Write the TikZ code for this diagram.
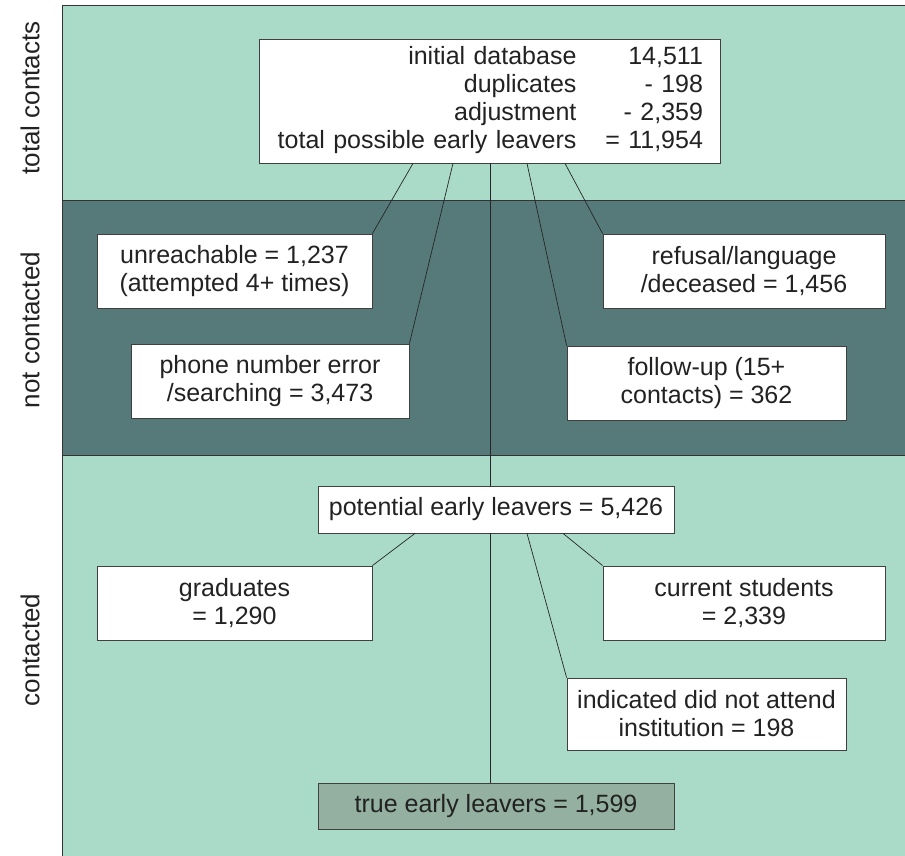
\documentclass[tikz,border=0pt]{standalone}
\usepackage{fontspec}
\setmainfont{Liberation Sans}
\definecolor{lightband}{HTML}{AADBC8}
\definecolor{darkband}{HTML}{567A7A}
\definecolor{truefill}{HTML}{93B0A0}
\definecolor{inktext}{HTML}{222222}
\begin{document}
\begin{tikzpicture}[x=1pt,y=-1pt,
  txt/.style={font=\fontsize{25}{28}\selectfont, text=inktext},
  box/.style={txt, draw=black!75, fill=white, line width=0.8pt, align=center, inner sep=0pt},
  conn/.style={draw=black!85, line width=0.7pt},
  sidelabel/.style={txt, font=\fontsize{26}{28}\selectfont, rotate=90}]
\useasboundingbox (0,0) rectangle (905,856);
% bands
\fill[lightband] (62,5) rectangle (905,200);
\fill[darkband] (62,200) rectangle (905,455);
\fill[lightband] (62,455) rectangle (905,856);
\draw[black!80, line width=0.8pt] (905,5) -- (62,5) -- (62,856);
\draw[black!80, line width=0.8pt] (62,200) -- (905,200);
\draw[black!80, line width=0.8pt] (62,455) -- (905,455);
% side labels
\node[sidelabel] (l1) at (30,98) {total contacts};
\node[sidelabel] (l2) at (30,330) {not contacted};
\node[sidelabel] (l3) at (30,650) {contacted};
% boxes
\node[box, minimum width=461pt, minimum height=124pt, text width=427pt, align=right] (top) at (489.5,101)
  {\begin{tabular}{@{}r@{\hspace{29pt}}r@{}}
   initial database & 14,511\\
   duplicates & - 198\\
   adjustment & - 2,359\\
   total possible early leavers & = 11,954
   \end{tabular}};
\node[box, minimum width=275pt, minimum height=74pt] (unreach) at (234.5,271) {unreachable = 1,237\\(attempted 4+ times)};
\node[box, minimum width=278pt, minimum height=74pt] (phone) at (270,381) {phone number error\\/searching = 3,473};
\node[box, minimum width=282pt, minimum height=74pt] (refusal) at (744,271) {refusal/language\\/deceased = 1,456};
\node[box, minimum width=279pt, minimum height=74pt] (follow) at (706.5,383) {follow-up (15+\\contacts) = 362};
\node[box, minimum width=356pt, minimum height=47pt] (potential) at (496,509.5) {potential early leavers = 5,426};
\node[box, minimum width=275pt, minimum height=74pt] (grad) at (234.5,603) {graduates\\= 1,290};
\node[box, minimum width=282pt, minimum height=74pt] (current) at (744,603) {current students\\= 2,339};
\node[box, minimum width=279pt, minimum height=72pt] (indicated) at (706.5,714) {indicated did not attend\\institution = 198};
\node[box, fill=truefill, minimum width=356pt, minimum height=46pt] (true) at (496,806) {true early leavers = 1,599};
% connectors
\draw[conn] ([xshift=-76.5pt]top.south) -- (unreach.north east);
\draw[conn] ([xshift=-36.5pt]top.south) -- (phone.north east);
\draw[conn] ([xshift=0.5pt]top.south) -- ([xshift=-6pt]potential.north);
\draw[conn] ([xshift=37.5pt]top.south) -- (follow.north west);
\draw[conn] ([xshift=75.5pt]top.south) -- (refusal.north west);
\draw[conn] ([xshift=-81pt]potential.south) -- (grad.north east);
\draw[conn] ([xshift=-6pt]potential.south) -- ([xshift=-6pt]true.north);
\draw[conn] ([xshift=31pt]potential.south) -- (indicated.north west);
\draw[conn] ([xshift=67pt]potential.south) -- (current.north west);
\end{tikzpicture}
\end{document}
